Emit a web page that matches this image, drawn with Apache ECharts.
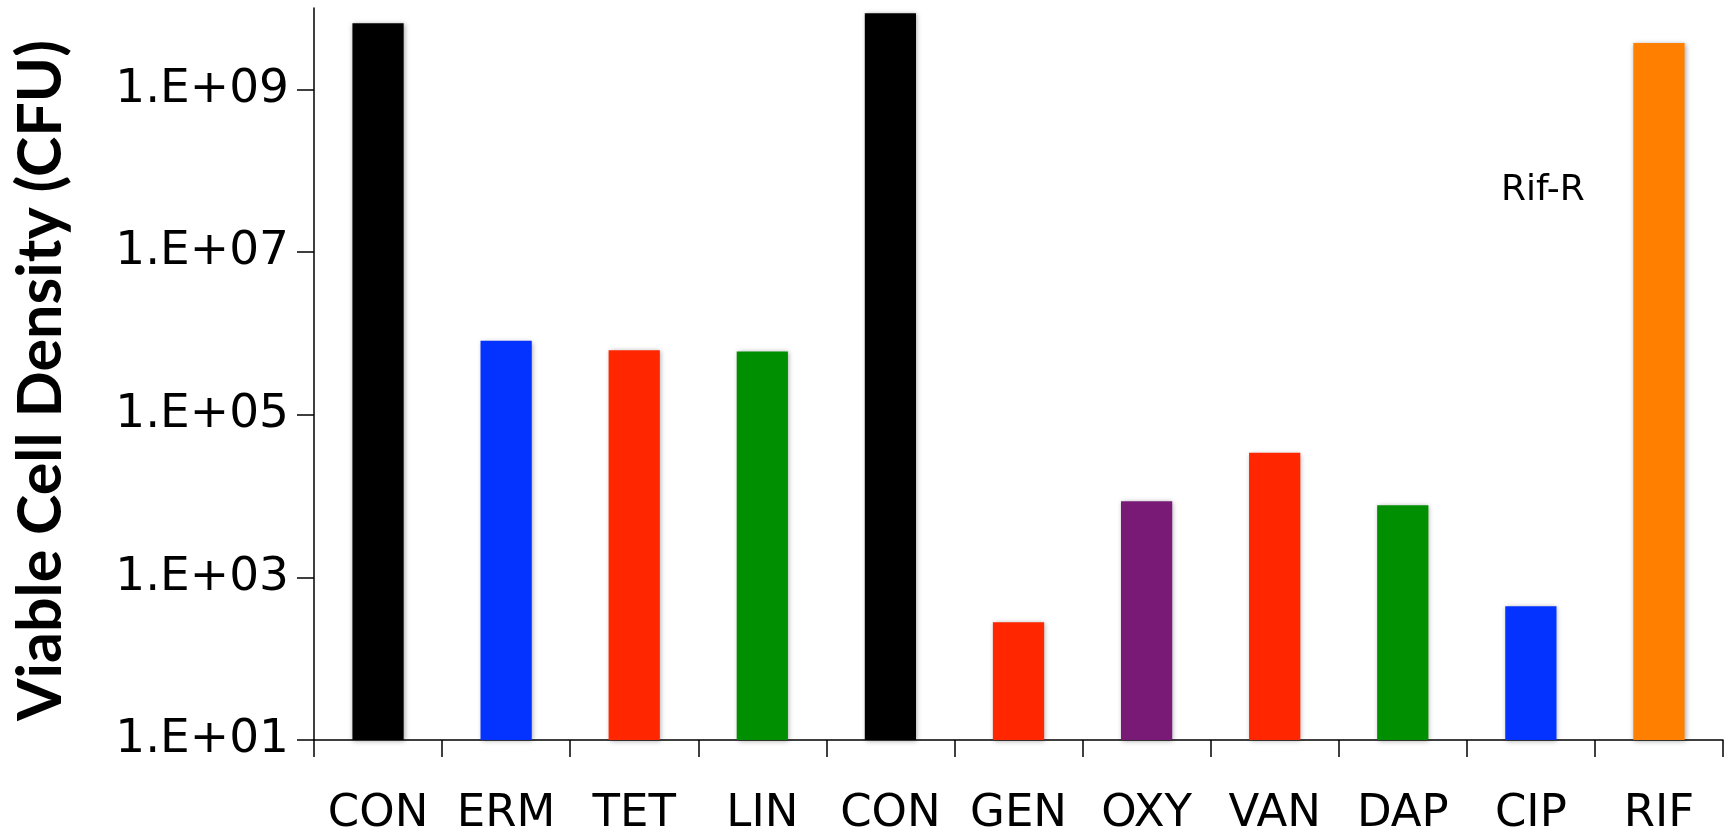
<!DOCTYPE html>
<html lang="en">
<head>
    <meta charset="UTF-8">
    <script src="https://cdn.jsdelivr.net/npm/echarts@6/dist/echarts.min.js"></script>
    <title>Viable Cell Density</title>
    <style>
        html, body { margin: 0; padding: 0; background: #fff; }
    </style>
</head>
<body>
<div id="main" style="width: 1732px;height: 834px;"></div>
<script>
    // data
    var categories = ['CON', 'ERM', 'TET', 'LIN', 'CON', 'GEN', 'OXY', 'VAN', 'DAP', 'CIP', 'RIF'];
    var cfu = [6.5e9, 8.1e5, 6.2e5, 6.0e5, 8.6e9, 2.8e2, 8.6e3, 3.4e4, 7.7e3, 4.4e2, 3.7e9];
    var tickValues = [1e1, 1e3, 1e5, 1e7, 1e9];
    var barColors = ['#000000', '#0433ff', '#ff2600', '#008f00', '#000000', '#ff2600',
        '#7a1a77', '#ff2600', '#008f00', '#0433ff', '#ff7f00'];

    // label like excel: 1.E+09
    function sci(v) {
        var e = Math.round(Math.log10(v));
        return '1.E+' + (e < 10 ? '0' + e : e);
    }

    var myChart = echarts.init(document.getElementById('main'));
    var option = {
        animation: false,
        backgroundColor: '#ffffff',
        grid: {
            left: 314,
            right: 9,
            top: 8,
            bottom: 94,
            containLabel: false,
            outerBoundsMode: 'none'
        },
        xAxis: {
            type: 'category',
            data: categories,
            axisLine: {lineStyle: {color: '#000', width: 1.5}},
            axisTick: {show: true, length: 17, inside: false, lineStyle: {color: '#000', width: 1.5}},
            axisLabel: {
                color: '#000',
                fontFamily: 'DejaVu Sans',
                fontSize: 45,
                margin: 52,
                interval: 0
            }
        },
        yAxis: {
            type: 'log',
            logBase: 10,
            min: 10,
            max: 1e10,
            name: 'Viable Cell Density (CFU)',
            nameLocation: 'middle',
            nameGap: 242,
            nameTextStyle: {
                color: '#000',
                fontFamily: 'Lato',
                fontWeight: 'bold',
                fontSize: 61,
                padding: [0, 13, 0, 0]
            },
            axisLine: {show: true, lineStyle: {color: '#000', width: 1.5}},
            axisTick: {show: true, length: 17, inside: false, customValues: tickValues,
                lineStyle: {color: '#000', width: 1.5}},
            axisLabel: {
                color: '#000',
                fontFamily: 'DejaVu Sans',
                fontSize: 47,
                margin: 25,
                customValues: tickValues,
                formatter: sci
            },
            splitLine: {show: false}
        },
        graphic: [{
            type: 'text',
            left: 1501,
            top: 173,
            style: {
                text: 'Rif-R',
                fill: '#000',
                font: '36px "DejaVu Sans"'
            }
        }],
        series: [{
            type: 'bar',
            barWidth: '40%',
            data: cfu.map(function (v, i) {
                return {
                    value: v,
                    itemStyle: {color: barColors[i]}
                };
            }),
            itemStyle: {
                shadowBlur: 5,
                shadowColor: 'rgba(0,0,0,0.35)',
                shadowOffsetX: 1,
                shadowOffsetY: 1
            }
        }]
    };
    myChart.setOption(option);
</script>
</body>
</html>
